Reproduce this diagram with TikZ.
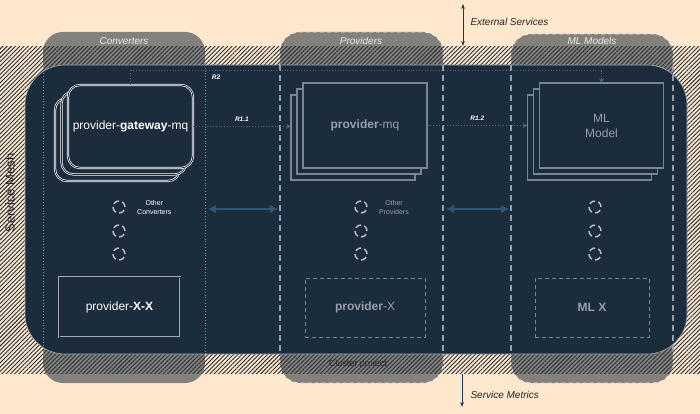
\documentclass[tikz,border=0pt]{standalone}
\usepackage{fontspec}
\setmainfont{Liberation Sans}
\usetikzlibrary{arrows.meta,positioning,patterns.meta}
\definecolor{peach}{RGB}{253,231,205}
\definecolor{navy}{RGB}{27,44,61}
\definecolor{tabgray}{RGB}{130,129,123}
\definecolor{hatch}{RGB}{40,48,58}
\definecolor{dimgray}{RGB}{120,134,148}
\definecolor{dimtext}{RGB}{150,160,170}
\definecolor{linkblue}{RGB}{46,84,120}
\definecolor{relgray}{RGB}{80,100,122}
\definecolor{ioblue}{RGB}{30,55,90}
\newcommand{\fsz}[2]{\fontsize{#1}{#2}\selectfont}

\begin{document}
\begin{tikzpicture}[
  x=1pt, y=-1pt,
  tab/.style={fill=tabgray, rounded corners=20pt},
  dimtab/.style={tab, draw=white!85!tabgray, dash pattern=on 4pt off 3pt, line width=0.8pt},
  tablabel/.style={text=white!92!black, font=\fsz{10}{12}\itshape},
  outside/.style={text=black!85, font=\fsz{10}{12}\itshape},
  ioarrow/.style={draw=ioblue, line width=1pt},
  stackbox/.style={draw=white, double=navy, double distance=0.8pt, line width=0.7pt, fill=navy,
    rounded corners=12pt, minimum width=125pt, minimum height=83pt, inner sep=0pt},
  plainbox/.style={draw=white!60!navy, double=navy, double distance=0.8pt, line width=0.6pt,
    minimum height=60pt, inner sep=0pt, text=white, font=\fsz{12}{14}},
  dimbox/.style={draw=dimgray, line width=1.2pt, fill=navy, minimum width=124pt, minimum height=85pt,
    inner sep=0pt, text=dimtext, font=\fsz{12}{15}, align=center},
  ghostbox/.style={draw=dimgray, dash pattern=on 4pt off 3pt, line width=1pt, minimum height=59pt,
    inner sep=0pt, text=dimtext, font=\fsz{12}{15}},
  slot/.style={circle, draw=white!70!navy, line width=1.4pt, dash pattern=on 6pt off 3.4pt,
    minimum size=12pt, inner sep=0pt},
  small/.style={font=\fsz{7}{9}, align=center, anchor=west},
  rel/.style={draw=relgray, dotted, line width=0.8pt, -{Stealth[length=4pt,width=5pt]}},
  rlabel/.style={text=white, font=\fsz{6.5}{8}\bfseries\itshape},
  link/.style={draw=linkblue, line width=2.2pt, {Latex[length=8pt,width=9pt]}-{Latex[length=8pt,width=9pt]}},
  colline/.style={draw=dimtext, line width=1.3pt, dash pattern=on 6pt off 4pt},
  dotline/.style={draw=white!45!navy, dotted, line width=0.8pt}
]
\useasboundingbox (0,0) rectangle (700,414);
\fill[peach] (0,0) rectangle (700,414);

% column tabs
\fill[tab] (43,32) rectangle (205,383);
\draw[dimtab] (280,32) rectangle (443,383);
\draw[dimtab] (511,34) rectangle (673,383);

% service mesh band
\fill[pattern={Lines[angle=45,distance=3pt,line width=0.9pt]}, pattern color=hatch] (0,47) rectangle (700,373);

% cluster panel
\draw[fill=navy, draw=white!60!navy, line width=0.6pt, rounded corners=40pt] (25,65) rectangle (687,354);

% column borders
\draw[dotline] (43,65) -- (43,354);
\draw[dotline] (205,65) -- (205,354);
\draw[colline] (280,65) -- (280,354);
\draw[colline] (443,65) -- (443,354);
\draw[colline] (511,65) -- (511,354);
\draw[colline] (673,65) -- (673,354);

\node[tablabel] (convlbl) at (124,41) {Converters};
\node[tablabel] (provlbl) at (361,41) {Providers};
\node[tablabel] (mllbl) at (592,41) {ML Models};

% converters
\node[stackbox] (gw3) at (117.5,139.5) {};
\node[stackbox] (gw2) at (124,133) {};
\node[stackbox, text=white, font=\fsz{12}{14}] (gw) at (130.5,126.5) {provider-\textbf{gateway}-mq};
\node[slot] (cv1) at (119,207) {};
\node[slot] (cv2) at (119,231) {};
\node[slot] (cv3) at (119,254) {};
\node[small, text=white, right=8pt of cv1] (cvother) {Other\\Converters};
\node[plainbox, minimum width=121pt] (pxx) at (119.5,307) {provider-\textbf{X-X}};

% providers
\node[dimbox] (pmq3) at (353,137.5) {};
\node[dimbox] (pmq2) at (359,131.5) {};
\node[dimbox] (pmq) at (365,125.5) {\textbf{provider}-mq};
\node[slot] (pv1) at (361,207) {};
\node[slot] (pv2) at (361,231) {};
\node[slot] (pv3) at (361,254) {};
\node[small, text=dimtext, right=8pt of pv1] (pvother) {Other\\Providers};
\node[ghostbox, minimum width=120pt] (px) at (365,307.5) {\textbf{provider}-X};

% ml models
\node[dimbox] (ml3) at (589.5,137.5) {};
\node[dimbox] (ml2) at (595.5,131.5) {};
\node[dimbox] (ml) at (601.5,125.5) {ML\\Model};
\node[slot] (mv1) at (595,207) {};
\node[slot] (mv2) at (595,231) {};
\node[slot] (mv3) at (595,254) {};
\node[ghostbox, minimum width=114pt] (mlx) at (592,307.5) {\textbf{ML X}};

% relations
\draw[rel] (gw.north) -- ++(0,-14) -| (ml.north);
\node[rlabel] (r2) at (216,77) {R2};
\draw[rel] (gw.east) -- (gw.east -| pmq3.west) node[rlabel, midway, above=1pt] (r11) {R1.1};
\draw[rel] (pmq.east) -- (pmq.east -| ml3.west) node[rlabel, midway, above=1pt] (r12) {R1.2};

\coordinate (cvR) at (208,209);
\coordinate (pvL) at (278,209);
\coordinate (pvR) at (446,209);
\coordinate (mlL) at (509,209);
\draw[link] (cvR) -- (pvL);
\draw[link] (pvR) -- (mlL);

% outside
\coordinate (extTop) at (463,4);
\coordinate (extBot) at (463,46);
\draw[ioarrow, {Stealth[length=5pt]}-{Stealth[length=5pt]}] (extTop) -- (extBot);
\node[outside, anchor=west] (extlbl) at (467,22) {External Services};
\coordinate (metTop) at (462,374);
\coordinate (metBot) at (462,407);
\draw[ioarrow, -{Stealth[length=5pt]}] (metTop) -- (metBot);
\node[outside, anchor=west] (metlbl) at (467,395) {Service Metrics};
\node[rotate=90, text=black!85, font=\fsz{13}{15}] (meshlbl) at (10,193) {Service Mesh};
\node[text=black!85, font=\fsz{9}{11}] (clusterlbl) at (358,364) {Cluster project};
\end{tikzpicture}
\end{document}
